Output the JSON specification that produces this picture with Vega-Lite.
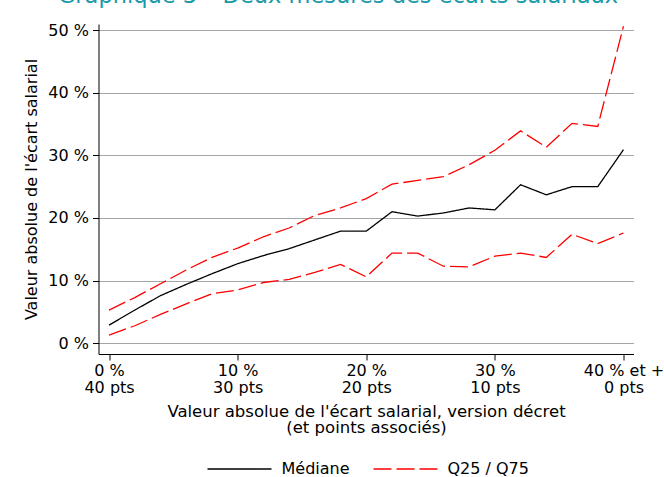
{
  "$schema": "https://vega.github.io/schema/vega-lite/v6.json",
  "width": 535,
  "height": 330,
  "autosize": {"type": "none"},
  "padding": {"left": 98.5, "top": 24, "right": 30.5, "bottom": 123},
  "background": "white",
  "config": {"font": "DejaVu Sans", "view": {"stroke": null}},
  "title": {
    "text": "Graphique 3 – Deux mesures des écarts salariaux",
    "fontSize": 22.5,
    "fontWeight": "normal",
    "color": "#1a9aaa",
    "anchor": "middle",
    "dx": -28,
    "baseline": "alphabetic",
    "offset": 4,
    "dy": 7
  },
  "data": {
    "values": [
      {"x": 0, "q": "Médiane", "s": "Médiane", "v": 2.9},
      {"x": 2, "q": "Médiane", "s": "Médiane", "v": 5.3},
      {"x": 4, "q": "Médiane", "s": "Médiane", "v": 7.6},
      {"x": 6, "q": "Médiane", "s": "Médiane", "v": 9.4},
      {"x": 8, "q": "Médiane", "s": "Médiane", "v": 11.1},
      {"x": 10, "q": "Médiane", "s": "Médiane", "v": 12.7},
      {"x": 12, "q": "Médiane", "s": "Médiane", "v": 14.0},
      {"x": 14, "q": "Médiane", "s": "Médiane", "v": 15.1},
      {"x": 16, "q": "Médiane", "s": "Médiane", "v": 16.5},
      {"x": 18, "q": "Médiane", "s": "Médiane", "v": 17.9},
      {"x": 20, "q": "Médiane", "s": "Médiane", "v": 17.9},
      {"x": 22, "q": "Médiane", "s": "Médiane", "v": 21.0},
      {"x": 24, "q": "Médiane", "s": "Médiane", "v": 20.3},
      {"x": 26, "q": "Médiane", "s": "Médiane", "v": 20.8},
      {"x": 28, "q": "Médiane", "s": "Médiane", "v": 21.6},
      {"x": 30, "q": "Médiane", "s": "Médiane", "v": 21.3},
      {"x": 32, "q": "Médiane", "s": "Médiane", "v": 25.3},
      {"x": 34, "q": "Médiane", "s": "Médiane", "v": 23.7},
      {"x": 36, "q": "Médiane", "s": "Médiane", "v": 25.0},
      {"x": 38, "q": "Médiane", "s": "Médiane", "v": 25.0},
      {"x": 40, "q": "Médiane", "s": "Médiane", "v": 30.9},
      {"x": 0, "q": "Q75", "s": "Q25 / Q75", "v": 5.3},
      {"x": 2, "q": "Q75", "s": "Q25 / Q75", "v": 7.3},
      {"x": 4, "q": "Q75", "s": "Q25 / Q75", "v": 9.5},
      {"x": 6, "q": "Q75", "s": "Q25 / Q75", "v": 11.7},
      {"x": 8, "q": "Q75", "s": "Q25 / Q75", "v": 13.7},
      {"x": 10, "q": "Q75", "s": "Q25 / Q75", "v": 15.2},
      {"x": 12, "q": "Q75", "s": "Q25 / Q75", "v": 17.0},
      {"x": 14, "q": "Q75", "s": "Q25 / Q75", "v": 18.4},
      {"x": 16, "q": "Q75", "s": "Q25 / Q75", "v": 20.4},
      {"x": 18, "q": "Q75", "s": "Q25 / Q75", "v": 21.6},
      {"x": 20, "q": "Q75", "s": "Q25 / Q75", "v": 23.1},
      {"x": 22, "q": "Q75", "s": "Q25 / Q75", "v": 25.4},
      {"x": 24, "q": "Q75", "s": "Q25 / Q75", "v": 26.0},
      {"x": 26, "q": "Q75", "s": "Q25 / Q75", "v": 26.6},
      {"x": 28, "q": "Q75", "s": "Q25 / Q75", "v": 28.5},
      {"x": 30, "q": "Q75", "s": "Q25 / Q75", "v": 30.8},
      {"x": 32, "q": "Q75", "s": "Q25 / Q75", "v": 33.9},
      {"x": 34, "q": "Q75", "s": "Q25 / Q75", "v": 31.3},
      {"x": 36, "q": "Q75", "s": "Q25 / Q75", "v": 35.1},
      {"x": 38, "q": "Q75", "s": "Q25 / Q75", "v": 34.6},
      {"x": 40, "q": "Q75", "s": "Q25 / Q75", "v": 50.6},
      {"x": 0, "q": "Q25", "s": "Q25 / Q75", "v": 1.3},
      {"x": 2, "q": "Q25", "s": "Q25 / Q75", "v": 2.8},
      {"x": 4, "q": "Q25", "s": "Q25 / Q75", "v": 4.6},
      {"x": 6, "q": "Q25", "s": "Q25 / Q75", "v": 6.3},
      {"x": 8, "q": "Q25", "s": "Q25 / Q75", "v": 7.9},
      {"x": 10, "q": "Q25", "s": "Q25 / Q75", "v": 8.5},
      {"x": 12, "q": "Q25", "s": "Q25 / Q75", "v": 9.7},
      {"x": 14, "q": "Q25", "s": "Q25 / Q75", "v": 10.2},
      {"x": 16, "q": "Q25", "s": "Q25 / Q75", "v": 11.3},
      {"x": 18, "q": "Q25", "s": "Q25 / Q75", "v": 12.6},
      {"x": 20, "q": "Q25", "s": "Q25 / Q75", "v": 10.6},
      {"x": 22, "q": "Q25", "s": "Q25 / Q75", "v": 14.4},
      {"x": 24, "q": "Q25", "s": "Q25 / Q75", "v": 14.4},
      {"x": 26, "q": "Q25", "s": "Q25 / Q75", "v": 12.3},
      {"x": 28, "q": "Q25", "s": "Q25 / Q75", "v": 12.2},
      {"x": 30, "q": "Q25", "s": "Q25 / Q75", "v": 13.9},
      {"x": 32, "q": "Q25", "s": "Q25 / Q75", "v": 14.4},
      {"x": 34, "q": "Q25", "s": "Q25 / Q75", "v": 13.7},
      {"x": 36, "q": "Q25", "s": "Q25 / Q75", "v": 17.4},
      {"x": 38, "q": "Q25", "s": "Q25 / Q75", "v": 15.9},
      {"x": 40, "q": "Q25", "s": "Q25 / Q75", "v": 17.6}
    ]
  },
  "mark": {"type": "line", "strokeWidth": 1.3},
  "encoding": {
    "x": {
      "field": "x",
      "type": "quantitative",
      "scale": {"domain": [-0.82, 40.78], "nice": false, "zero": false},
      "axis": {
        "values": [0, 10, 20, 30, 40],
        "labelExpr": "[datum.value == 40 ? '40 % et +' : datum.value + ' %', (40 - datum.value) + ' pts']",
        "grid": false,
        "labelOverlap": false,
        "labelFlush": false,
        "labelBound": false,
        "labelFontSize": 16,
        "labelColor": "black",
        "labelLineHeight": 17,
        "labelPadding": 2,
        "tickSize": 6,
        "tickColor": "black",
        "domainColor": "black",
        "title": ["Valeur absolue de l'écart salarial, version décret", "(et points associés)"],
        "titleFontSize": 16.5,
        "titleFontWeight": "normal",
        "titleColor": "black",
        "titleLineHeight": 16,
        "titlePadding": 8
      }
    },
    "y": {
      "field": "v",
      "type": "quantitative",
      "scale": {"domain": [-1.71, 50.96], "nice": false, "zero": false},
      "axis": {
        "values": [0, 10, 20, 30, 40, 50],
        "labelExpr": "datum.value + ' %'",
        "grid": true,
        "gridColor": "#a6a6a6",
        "gridWidth": 1,
        "labelOverlap": false,
        "labelFontSize": 16,
        "labelColor": "black",
        "labelPadding": 4,
        "tickSize": 6,
        "tickColor": "black",
        "domainColor": "black",
        "title": "Valeur absolue de l'écart salarial",
        "titleFontSize": 16,
        "titleFontWeight": "normal",
        "titleColor": "black",
        "titlePadding": 8
      }
    },
    "detail": {"field": "q"},
    "color": {
      "field": "s",
      "type": "nominal",
      "scale": {"domain": ["Médiane", "Q25 / Q75"], "range": ["#000000", "#ff0000"]},
      "legend": {
        "orient": "none",
        "legendX": 108,
        "legendY": 412,
        "direction": "horizontal",
        "title": null,
        "symbolType": "stroke",
        "symbolSize": 4096,
        "symbolStrokeWidth": 1.3,
        "labelFontSize": 16,
        "labelColor": "black",
        "labelOffset": 9,
        "columnPadding": 20
      }
    },
    "strokeDash": {
      "field": "s",
      "type": "nominal",
      "scale": {"domain": ["Médiane", "Q25 / Q75"], "range": [[1, 0], [18, 5]]},
      "legend": {
        "orient": "none",
        "legendX": 108,
        "legendY": 412,
        "direction": "horizontal",
        "title": null,
        "symbolType": "stroke",
        "symbolSize": 4096,
        "symbolStrokeWidth": 1.3,
        "labelFontSize": 16,
        "labelColor": "black",
        "labelOffset": 9,
        "columnPadding": 20
      }
    }
  }
}
